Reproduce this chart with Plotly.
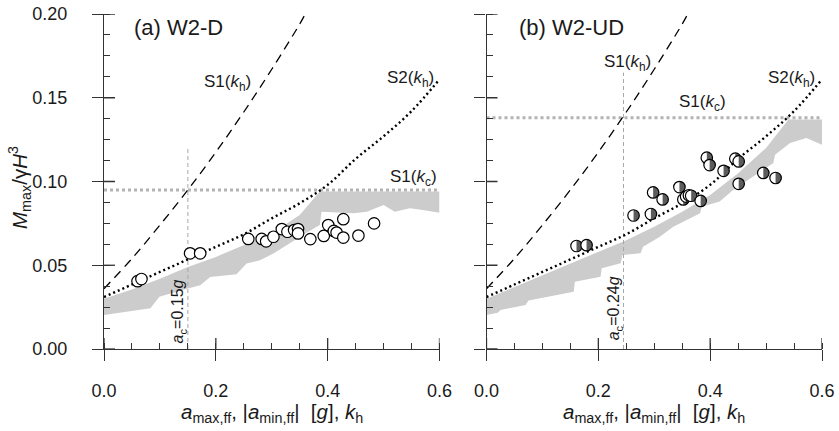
import numpy as np
import plotly.graph_objects as go

# ---------------- data ----------------
# S1(kh) curve (same in both panels)
s1_k = [0.0, 0.05, 0.10, 0.15, 0.20, 0.25, 0.30, 0.35, 0.36]
s1_v = [0.036, 0.054, 0.074, 0.095, 0.1175, 0.1415, 0.167, 0.194, 0.200]
# S2(kh) curve (same in both panels)
s2_k = [0.0, 0.05, 0.10, 0.15, 0.20, 0.25, 0.30, 0.35, 0.40, 0.45, 0.50, 0.55, 0.60]
s2_v = [0.031, 0.0385, 0.046, 0.0535, 0.061, 0.0685, 0.078, 0.087, 0.098, 0.1135, 0.127, 0.142, 0.161]

# panel (a) W2-D
a_kc = 0.095
a_ac = 0.15
a_ac_top = 0.12
a_up_k = [0.0, 0.05, 0.10, 0.15, 0.20, 0.25, 0.30, 0.35, 0.386, 0.60]
a_up_v = [0.030, 0.0355, 0.042, 0.049, 0.055, 0.062, 0.069, 0.080, 0.094, 0.094]
a_lo_k = [0.0, 0.083, 0.099, 0.145, 0.150, 0.172, 0.190, 0.237, 0.255, 0.279, 0.303, 0.360,
          0.386, 0.389, 0.446, 0.470, 0.500, 0.520, 0.547, 0.570, 0.600]
a_lo_v = [0.0203, 0.0243, 0.0312, 0.0356, 0.0364, 0.038, 0.043, 0.0447, 0.051, 0.053, 0.057, 0.069,
          0.074, 0.082, 0.081, 0.082, 0.086, 0.082, 0.084, 0.083, 0.0814]
a_pts_k = [0.060, 0.067, 0.154, 0.172, 0.258, 0.282, 0.290, 0.303, 0.318, 0.328, 0.340, 0.347,
           0.347, 0.369, 0.393, 0.401, 0.411, 0.416, 0.428, 0.428, 0.455, 0.483]
a_pts_v = [0.0405, 0.0418, 0.0571, 0.0571, 0.0657, 0.0657, 0.0643, 0.067, 0.0716, 0.0700, 0.0710, 0.0716,
           0.0690, 0.0656, 0.0675, 0.0740, 0.0705, 0.0695, 0.0775, 0.0665, 0.0677, 0.0750]

# panel (b) W2-UD
b_kc = 0.138
b_ac = 0.245
b_ac_top = 0.165
b_up_k = [0.0, 0.10, 0.20, 0.25, 0.30, 0.35, 0.40, 0.45, 0.50, 0.54, 0.60]
b_up_v = [0.030, 0.044, 0.058, 0.065, 0.073, 0.082, 0.092, 0.105, 0.120, 0.137, 0.137]
b_lo_k = [0.0, 0.02, 0.025, 0.07, 0.075, 0.108, 0.156, 0.158, 0.204, 0.206, 0.240, 0.243, 0.2755, 0.280,
          0.310, 0.334, 0.382, 0.385, 0.417, 0.441, 0.477, 0.513, 0.516, 0.543, 0.572, 0.600]
b_lo_v = [0.0203, 0.0217, 0.0233, 0.0263, 0.029, 0.0312, 0.0342, 0.0402, 0.0432, 0.0482, 0.0512, 0.0561,
          0.0571, 0.061, 0.067, 0.073, 0.081, 0.085, 0.088, 0.095, 0.103, 0.111, 0.116, 0.123, 0.126, 0.122]
b_pts_k = [0.161, 0.179, 0.263, 0.294, 0.298, 0.315, 0.345, 0.352, 0.357, 0.362, 0.366, 0.383,
           0.394, 0.399, 0.424, 0.445, 0.451, 0.451, 0.495, 0.517]
b_pts_v = [0.0615, 0.0620, 0.0797, 0.0806, 0.0935, 0.0893, 0.0967, 0.0893, 0.0910, 0.0918, 0.0915, 0.0884,
           0.1142, 0.1098, 0.1064, 0.1136, 0.1120, 0.0986, 0.1051, 0.1021]

x_ticks = [0.0, 0.2, 0.4, 0.6]
y_ticks = [0.0, 0.05, 0.10, 0.15, 0.20]

# ---------------- layout geometry ----------------
W, H = 839, 431
ML, MR, MT, MB = 104, 17, 14, 82
plot_w = W - ML - MR
plot_h = H - MT - MB
dom1 = [0.0, 335.5 / plot_w]
dom2 = [1 - 335.5 / plot_w, 1.0]
XR = [0.0, 0.6]
YR = [0.0, 0.2]
px_per_x = 335.5 / (XR[1] - XR[0])
px_per_y = plot_h / (YR[1] - YR[0])

FONT = "Arial, Liberation Sans, sans-serif"
AX = "#333333"
TXT = "#1a1a1a"
FILL = "#cccccc"
MK = 11.5

fig = go.Figure()


def panel(xa, ya, up_k, up_v, lo_k, lo_v, kc, ac, ac_top, pts_k, pts_v, half):
    xs = "x" if xa == 1 else "x2"
    ys = "y" if ya == 1 else "y2"
    poly_k = list(up_k) + list(lo_k[::-1])
    poly_v = list(up_v) + list(lo_v[::-1])
    fig.add_trace(go.Scatter(x=poly_k, y=poly_v, fill="toself", fillcolor=FILL, mode="lines",
                             line=dict(width=0, color=FILL), xaxis=xs, yaxis=ys, hoverinfo="skip"))
    fig.add_trace(go.Scatter(x=[XR[0], XR[1]], y=[kc, kc], mode="lines",
                             line=dict(color="#b3b3b3", width=3, dash="dot"), xaxis=xs, yaxis=ys))
    fig.add_trace(go.Scatter(x=[ac, ac], y=[0, ac_top], mode="lines",
                             line=dict(color="#a8a8a8", width=1, dash="4px,3px"), xaxis=xs, yaxis=ys))
    fig.add_trace(go.Scatter(x=s1_k, y=s1_v, mode="lines",
                             line=dict(color="black", width=1.3, dash="9px,6px", shape="spline"),
                             xaxis=xs, yaxis=ys))
    fig.add_trace(go.Scatter(x=s2_k, y=s2_v, mode="lines",
                             line=dict(color="black", width=2.4, dash="2px,3px", shape="spline"),
                             xaxis=xs, yaxis=ys))
    if not half:
        fig.add_trace(go.Scatter(x=pts_k, y=pts_v, mode="markers",
                                 marker=dict(symbol="circle", size=MK, color="white",
                                             line=dict(color="black", width=1.2)),
                                 xaxis=xs, yaxis=ys))
    else:
        r = MK / 2.0
        t = np.linspace(-np.pi / 2, np.pi / 2, 16)
        for k, v in zip(pts_k, pts_v):
            fig.add_trace(go.Scatter(x=[k], y=[v], mode="markers",
                                     marker=dict(symbol="circle", size=MK, color="white",
                                                 line=dict(width=0)),
                                     xaxis=xs, yaxis=ys))
            hx = list(k + r * np.cos(t) / px_per_x) + [k]
            hy = list(v + r * np.sin(t) / px_per_y) + [v - r / px_per_y]
            fig.add_trace(go.Scatter(x=hx, y=hy, fill="toself", fillcolor="#5c5c5c", mode="lines",
                                     line=dict(width=0, color="#5c5c5c"), xaxis=xs, yaxis=ys,
                                     hoverinfo="skip"))
            fig.add_trace(go.Scatter(x=[k], y=[v], mode="markers",
                                     marker=dict(symbol="circle", size=MK, color="rgba(0,0,0,0)",
                                                 line=dict(color="black", width=1.2)),
                                     xaxis=xs, yaxis=ys))


panel(1, 1, a_up_k, a_up_v, a_lo_k, a_lo_v, a_kc, a_ac, a_ac_top, a_pts_k, a_pts_v, False)
panel(2, 2, b_up_k, b_up_v, b_lo_k, b_lo_v, b_kc, b_ac, b_ac_top, b_pts_k, b_pts_v, True)

TF = dict(family=FONT, size=18, color=TXT)
common_x = dict(range=XR, showgrid=False, zeroline=False, showline=True, linecolor=AX, linewidth=1.3,
                automargin=False, ticklabeloverflow="allow",
                ticks="outside", ticklen=11, tickwidth=1.3, tickcolor=AX, tickvals=x_ticks,
                tickformat=".1f", ticklabelstandoff=14, tickfont=TF,
                minor=dict(dtick=0.05, ticks="inside", ticklen=6, tickwidth=1.2, tickcolor=AX, showgrid=False))
common_y = dict(range=YR, showgrid=False, zeroline=False, showline=True, linecolor=AX, linewidth=1.3,
                automargin=False, ticklabeloverflow="allow",
                ticks="outside", ticklen=11, tickwidth=1.3, tickcolor=AX, tickvals=y_ticks,
                tickformat=".2f", ticklabelstandoff=21, tickfont=TF,
                minor=dict(dtick=0.0125, ticks="inside", ticklen=6, tickwidth=1.2, tickcolor=AX, showgrid=False))

fig.update_layout(
    width=W, height=H, margin=dict(l=ML, r=MR, t=MT, b=MB, autoexpand=False),
    paper_bgcolor="white", plot_bgcolor="white", showlegend=False,
    font=dict(family=FONT, color=TXT),
    xaxis=dict(domain=dom1, anchor="y", **common_x),
    yaxis=dict(domain=[0, 1], anchor="x", **common_y),
    xaxis2=dict(domain=dom2, anchor="y2", **common_x),
    yaxis2=dict(domain=[0, 1], anchor="x2", showticklabels=False, **common_y),
)

# inner halves of crossing major ticks
shapes = []
for xr_, yr_ in (("x", "y"), ("x2", "y2")):
    for t in x_ticks:
        shapes.append(dict(type="line", xref=xr_, yref=yr_, x0=t, x1=t, ysizemode="pixel", yanchor=YR[0],
                           y0=0, y1=11, line=dict(color=AX, width=1.3)))
    for t in y_ticks:
        shapes.append(dict(type="line", xref=xr_, yref=yr_, y0=t, y1=t, xsizemode="pixel", xanchor=XR[0],
                           x0=0, x1=11, line=dict(color=AX, width=1.3)))
fig.update_layout(shapes=shapes)

ann = []
LF = dict(family=FONT, size=17, color=TXT)


def add(xref, yref, x, y, text, font, angle=0, xanchor="center"):
    ann.append(dict(xref=xref, yref=yref, x=x, y=y, text=text, showarrow=False, font=font,
                    textangle=angle, xanchor=xanchor, yanchor="middle"))


# panel titles
PF = dict(family=FONT, size=22, color=TXT)
add("x", "y", 0.05, 0.192, "(a) W2-D", PF, xanchor="left")
add("x2", "y2", 0.055, 0.192, "(b) W2-UD", PF, xanchor="left")
# curve labels
add("x", "y", 0.221, 0.159, "S1(<i>k</i><sub>h</sub>)", LF)
add("x", "y", 0.549, 0.161, "S2(<i>k</i><sub>h</sub>)", LF)
add("x", "y", 0.553, 0.102, "S1(<i>k</i><sub>c</sub>)", LF)
add("x2", "y2", 0.253, 0.171, "S1(<i>k</i><sub>h</sub>)", LF)
add("x2", "y2", 0.546, 0.161, "S2(<i>k</i><sub>h</sub>)", LF)
add("x2", "y2", 0.386, 0.1467, "S1(<i>k</i><sub>c</sub>)", LF)
# a_c labels
AF = dict(family=FONT, size=16, color=TXT)
add("x", "y", 0.134, 0.0224, "<i>a</i><sub>c</sub>=0.15<i>g</i>", AF, angle=-90)
add("x2", "y2", 0.2304, 0.0245, "<i>a</i><sub>c</sub>=0.24<i>g</i>", AF, angle=-90)
# axis titles (pixel positions converted to paper fractions)
XF = dict(family=FONT, size=20.5, color=TXT)
xt = ("<i>a</i><sub>max,ff</sub>, |<i>a</i><sub>min,ff</sub>|&nbsp;&nbsp;[<i>g</i>], "
      "<i>k</i><sub>h</sub>")
ytitle_y = -(413 - (MT + plot_h)) / plot_h
add("x domain", "paper", 0.5, ytitle_y, xt, XF)
add("x2 domain", "paper", 0.5, ytitle_y, xt, XF)
add("paper", "paper", (19 - ML) / plot_w, (MT + plot_h - 188) / plot_h,
    "<i>M</i><sub>max</sub>/γ<i>H</i><sup>3</sup>", XF, angle=-90)
fig.update_layout(annotations=ann)

fig.write_html("out.html", config={"displayModeBar": False},
               post_script="document.body.style.margin='0';")
